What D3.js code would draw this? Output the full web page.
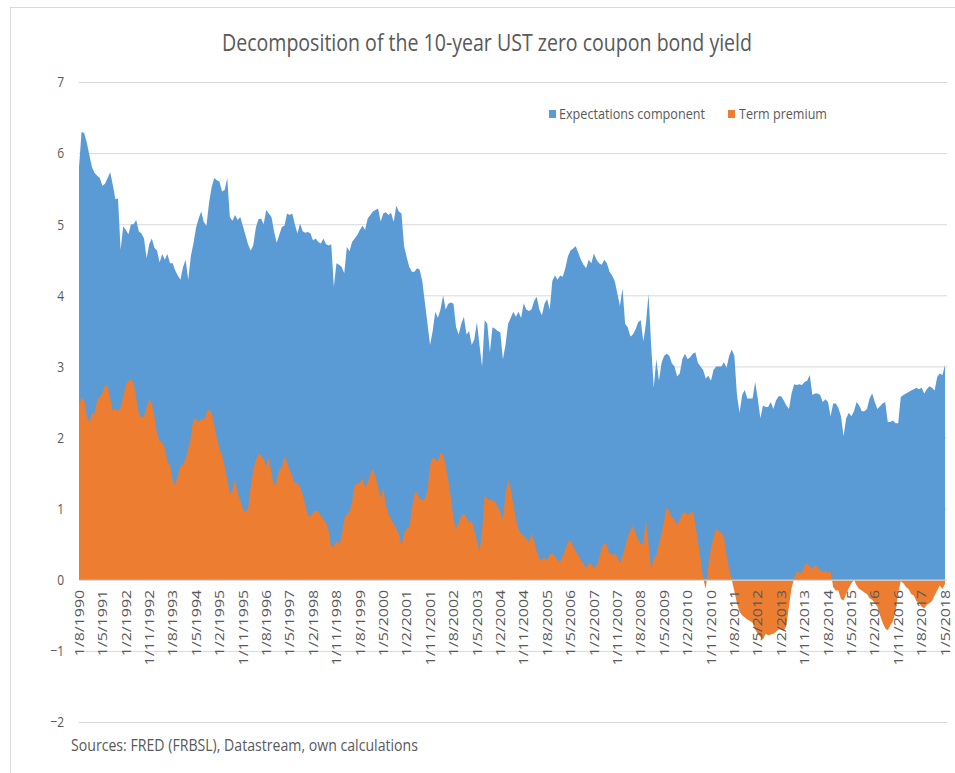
<!DOCTYPE html>
<html>
<head>
<meta charset="utf-8">
<script src="https://cdn.jsdelivr.net/npm/d3@7"></script>
<style>
    body { margin: 0; background: #fff; }
    text { font-family: "Open Sans", "Noto Sans", sans-serif; fill: #595959; }
</style>
</head>
<body>
<div id="viewportContainer"></div>
<script>
/* --- データ --- */
// monthly, 1/8/1990 .. 1/5/2018
const startYear = 1990, startMonth = 8;

const expectations = [
    5.8, 6.3, 6.28, 6.15, 5.97, 5.8, 5.72, 5.68, 5.65, 5.54,
    5.57, 5.65, 5.73, 5.55, 5.35, 5.36, 4.64, 4.97, 4.92, 4.86,
    5.0, 5.0, 5.06, 4.9, 4.87, 4.8, 4.52, 4.72, 4.8, 4.67,
    4.63, 4.46, 4.58, 4.5, 4.58, 4.45, 4.45, 4.35, 4.28, 4.22,
    4.4, 4.5, 4.22, 4.55, 4.73, 4.95, 5.08, 5.18, 5.03, 4.98,
    5.3, 5.52, 5.65, 5.62, 5.6, 5.46, 5.48, 5.65, 5.1, 5.05,
    5.13, 5.06, 5.1, 4.98, 4.85, 4.72, 4.63, 4.7, 4.95, 5.07,
    5.08, 5.0, 5.2, 5.15, 5.1, 4.9, 4.74, 4.85, 4.96, 4.98,
    5.15, 5.13, 5.15, 5.0, 4.87, 5.01, 4.9, 4.88, 4.89, 4.87,
    4.77, 4.8, 4.75, 4.73, 4.8, 4.72, 4.7, 4.72, 4.12, 4.45,
    4.43, 4.4, 4.31, 4.68, 4.62, 4.75, 4.8, 4.85, 4.92, 4.98,
    4.92, 5.08, 5.13, 5.18, 5.2, 5.22, 5.04, 5.15, 5.17, 5.13,
    5.16, 5.03, 5.26, 5.18, 5.15, 4.69, 4.54, 4.4, 4.33, 4.33,
    4.38, 4.36, 4.2, 3.9, 3.6, 3.3, 3.5, 3.77, 3.68, 3.8,
    4.0, 3.8, 3.88, 3.9, 3.88, 3.55, 3.45, 3.6, 3.7, 3.45,
    3.5, 3.3, 3.38, 3.62, 3.3, 3.0, 3.65, 3.6, 3.2, 3.55,
    3.53, 3.5, 3.48, 3.1, 3.3, 3.6, 3.68, 3.77, 3.7, 3.77,
    3.68, 3.89, 3.8, 3.78, 3.8, 3.92, 3.98, 3.8, 3.72, 3.88,
    3.95, 3.8, 4.2, 4.28, 4.22, 4.28, 4.26, 4.38, 4.55, 4.63,
    4.66, 4.69, 4.6, 4.5, 4.43, 4.38, 4.5, 4.45, 4.59, 4.5,
    4.45, 4.43, 4.5, 4.45, 4.33, 4.28, 4.2, 4.03, 3.85, 4.1,
    3.6, 3.55, 3.42, 3.45, 3.52, 3.62, 3.65, 3.35, 3.6, 4.02,
    3.3, 2.7, 3.1, 2.8, 3.05, 3.15, 3.18, 3.15, 3.04, 3.0,
    2.86, 2.9, 3.1, 3.18, 3.1, 3.13, 3.18, 3.2, 3.05, 3.0,
    2.95, 2.83, 2.87, 2.8, 2.95, 3.0, 3.0, 3.0, 3.06, 2.98,
    3.15, 3.24, 3.15, 2.6, 2.35, 2.6, 2.67, 2.55, 2.55, 2.55,
    2.78, 2.55, 2.27, 2.45, 2.43, 2.43, 2.5, 2.4, 2.52, 2.58,
    2.58, 2.52, 2.45, 2.4, 2.62, 2.75, 2.74, 2.75, 2.74, 2.78,
    2.8, 2.88, 2.6, 2.62, 2.62, 2.6, 2.5, 2.54, 2.5, 2.3,
    2.48, 2.48, 2.42, 2.3, 2.02, 2.27, 2.35, 2.3, 2.37, 2.5,
    2.45, 2.37, 2.37, 2.4, 2.55, 2.62, 2.5, 2.4, 2.44, 2.48,
    2.5, 2.22, 2.22, 2.24, 2.2, 2.2, 2.57, 2.6, 2.62, 2.64,
    2.66, 2.68, 2.7, 2.68, 2.7, 2.62, 2.68, 2.72, 2.7, 2.66,
    2.85, 2.9, 2.88, 3.02
];

const termPremium = [
    2.46, 2.57, 2.52, 2.3, 2.2, 2.35, 2.34, 2.53, 2.57, 2.63,
    2.74, 2.73, 2.55, 2.38, 2.4, 2.37, 2.43, 2.57, 2.74, 2.8,
    2.82, 2.76, 2.56, 2.35, 2.28, 2.3, 2.42, 2.54, 2.48, 2.3,
    2.06, 1.94, 1.93, 1.85, 1.66, 1.61, 1.4, 1.33, 1.47, 1.6,
    1.62, 1.7, 1.85, 2.0, 2.27, 2.25, 2.22, 2.26, 2.25, 2.34,
    2.4, 2.35, 2.18, 1.99, 1.85, 1.75, 1.6, 1.42, 1.21, 1.25,
    1.42, 1.22, 1.12, 1.0, 0.95, 1.0, 1.3, 1.55, 1.68, 1.77,
    1.75, 1.7, 1.59, 1.72, 1.5, 1.33, 1.38, 1.55, 1.58, 1.73,
    1.65, 1.55, 1.45, 1.36, 1.36, 1.3, 1.2, 1.06, 0.9, 0.89,
    0.95, 0.97, 0.96, 0.9, 0.85, 0.8, 0.69, 0.46, 0.47, 0.55,
    0.5, 0.62, 0.85, 0.93, 0.95, 1.1, 1.33, 1.35, 1.36, 1.43,
    1.3, 1.36, 1.48, 1.56, 1.45, 1.3, 1.15, 1.3, 1.05, 0.93,
    0.85, 0.78, 0.72, 0.64, 0.48, 0.65, 0.72, 0.73, 1.0, 1.22,
    1.23, 1.14, 1.12, 1.14, 1.26, 1.61, 1.72, 1.7, 1.66, 1.78,
    1.76, 1.6, 1.4, 1.15, 0.85, 0.72, 0.8, 0.9, 0.93, 0.88,
    0.8, 0.83, 0.7, 0.55, 0.39, 0.7, 1.2, 1.14, 1.12, 1.12,
    1.1, 1.02, 0.95, 0.85, 1.2, 1.4, 1.28, 1.07, 0.85, 0.7,
    0.65, 0.62, 0.58, 0.52, 0.65, 0.55, 0.4, 0.3, 0.28, 0.31,
    0.28, 0.35, 0.38, 0.32, 0.28, 0.25, 0.33, 0.43, 0.53, 0.55,
    0.48, 0.4, 0.34, 0.27, 0.23, 0.16, 0.23, 0.23, 0.16, 0.2,
    0.3, 0.45, 0.52, 0.48, 0.37, 0.35, 0.37, 0.32, 0.23, 0.34,
    0.46, 0.6, 0.69, 0.76, 0.66, 0.56, 0.5, 0.52, 0.84, 0.5,
    0.15, 0.3, 0.35, 0.5, 0.65, 0.84, 1.02, 0.96, 0.88, 0.84,
    0.77, 0.84, 0.93, 0.95, 0.91, 0.93, 0.97, 0.78, 0.54, 0.3,
    0.02, -0.13, 0.2, 0.45, 0.6, 0.72, 0.68, 0.66, 0.6, 0.35,
    0.15, 0.0, -0.16, -0.33, -0.45, -0.5, -0.53, -0.56, -0.58, -0.6,
    -0.7, -0.76, -0.8, -0.84, -0.76, -0.78, -0.77, -0.76, -0.73, -0.7,
    -0.7, -0.72, -0.65, -0.37, -0.12, 0.02, 0.12, 0.1, 0.1, 0.2,
    0.23, 0.19, 0.15, 0.2, 0.18, 0.13, 0.11, 0.13, 0.1, 0.12,
    -0.1, -0.15, -0.15, -0.27, -0.29, -0.2, -0.12, -0.05, 0.0, -0.08,
    -0.13, -0.15, -0.18, -0.2, -0.26, -0.28, -0.33, -0.38, -0.5, -0.6,
    -0.68, -0.71, -0.64, -0.58, -0.45, -0.18, -0.02, -0.05, -0.1, -0.13,
    -0.2, -0.22, -0.3, -0.33, -0.38, -0.4, -0.35, -0.33, -0.3, -0.22,
    -0.15, -0.08, -0.13, -0.06
];

const tickLabels = [
    "1/8/1990", "1/5/1991", "1/2/1992", "1/11/1992", "1/8/1993", "1/5/1994", "1/2/1995",
    "1/11/1995", "1/8/1996", "1/5/1997", "1/2/1998", "1/11/1998", "1/8/1999", "1/5/2000",
    "1/2/2001", "1/11/2001", "1/8/2002", "1/5/2003", "1/2/2004", "1/11/2004", "1/8/2005",
    "1/5/2006", "1/2/2007", "1/11/2007", "1/8/2008", "1/5/2009", "1/2/2010", "1/11/2010",
    "1/8/2011", "1/5/2012", "1/2/2013", "1/11/2013", "1/8/2014", "1/5/2015", "1/2/2016",
    "1/11/2016", "1/8/2017", "1/5/2018"
];

const yTicks = [-2, -1, 0, 1, 2, 3, 4, 5, 6, 7];

const seriesNames = ["Expectations component", "Term premium"];
const seriesColors = ["#5b9bd5", "#ed7d31"];

/* --- カテゴリ (月) --- */
const categories = expectations.map((_, i) => {
    const m0 = startMonth - 1 + i;
    return "1/" + (m0 % 12 + 1) + "/" + (startYear + Math.floor(m0 / 12));
});

/* --- ビューポート --- */
const viewport = {width: 955, height: 773};
const plot = {left: 79, right: 945, gridRight: 947, top: 82, bottom: 722};

const svg = d3.select("#viewportContainer")
    .append("svg")
    .attr("width", viewport.width)
    .attr("height", viewport.height);

svg.append("rect")
    .attr("width", viewport.width).attr("height", viewport.height)
    .attr("fill", "#fff");

// chart frame (only left/top edges show)
svg.append("rect")
    .attr("x", 10.5).attr("y", 7.5)
    .attr("width", 1000).attr("height", 1000)
    .attr("fill", "none")
    .attr("stroke", "#d9d9d9");

/*--- スケール ---*/
const xScale = d3.scalePoint().domain(categories).range([plot.left, plot.right]);
const yScale = d3.scaleLinear().domain([-2, 7]).range([plot.bottom, plot.top]);

/*--- Y軸 + グリッド ---*/
const yAxis = d3.axisLeft(yScale)
    .tickValues(yTicks)
    .tickFormat(d3.format("d"))
    .tickSize(-(plot.gridRight - plot.left))
    .tickPadding(15);

const yAxisContainer = svg.append("g")
    .attr("transform", "translate(" + plot.left + ",0)")
    .call(yAxis);
yAxisContainer.select(".domain").remove();
yAxisContainer.selectAll("line").attr("stroke", "#d9d9d9").attr("stroke-width", 1);
yAxisContainer.selectAll("text")
    .attr("x", 0)
    .attr("transform", "translate(-15,0) scale(0.8,1)")
    .attr("font-size", 15)
    .attr("font-family", null)
    .attr("fill", "#595959");

/*--- エリア ---*/
const chartContainer = svg.append("g");

const areaOf = values => d3.area()
    .x((d, i) => xScale(categories[i]))
    .y0(yScale(0))
    .y1(d => yScale(d))(values);

chartContainer.append("path")
    .attr("d", areaOf(expectations))
    .attr("fill", seriesColors[0]);

chartContainer.append("path")
    .attr("d", areaOf(termPremium))
    .attr("fill", seriesColors[1]);

/*--- X軸 ---*/
const xAxis = d3.axisBottom(xScale).tickValues(tickLabels).tickSize(0);
const xAxisContainer = svg.append("g")
    .attr("transform", "translate(0," + yScale(0) + ")")
    .call(xAxis);
xAxisContainer.select(".domain")
    .attr("stroke", "#d9d9d9");
xAxisContainer.selectAll("text")
    .attr("font-size", 16)
    .attr("font-family", null)
    .attr("fill", "#595959")
    .attr("text-anchor", "end")
    .attr("x", -10)
    .attr("y", 0)
    .attr("dy", "0.35em")
    .attr("transform", "rotate(-90) scale(1,0.75)");

/*--- タイトル ---*/
svg.append("text")
    .attr("x", 487).attr("y", 51)
    .attr("text-anchor", "middle")
    .attr("font-size", 24)
    .attr("textLength", 530)
    .attr("lengthAdjust", "spacingAndGlyphs")
    .text("Decomposition of the 10-year UST zero coupon bond yield");

/*--- 凡例 ---*/
const legend = [
    {x: 549, textX: 559, width: 146},
    {x: 728, textX: 739, width: 88}
];
legend.forEach((l, k) => {
    svg.append("rect")
        .attr("x", l.x).attr("y", 110)
        .attr("width", 7).attr("height", 8)
        .attr("fill", seriesColors[k]);
    svg.append("text")
        .attr("x", l.textX).attr("y", 119)
        .attr("font-size", 15)
        .attr("textLength", l.width)
        .attr("lengthAdjust", "spacingAndGlyphs")
        .text(seriesNames[k]);
});

/*--- 出典 ---*/
svg.append("text")
    .attr("x", 71).attr("y", 751)
    .attr("font-size", 17)
    .attr("textLength", 347)
    .attr("lengthAdjust", "spacingAndGlyphs")
    .text("Sources: FRED (FRBSL), Datastream, own calculations");
</script>
</body>
</html>
